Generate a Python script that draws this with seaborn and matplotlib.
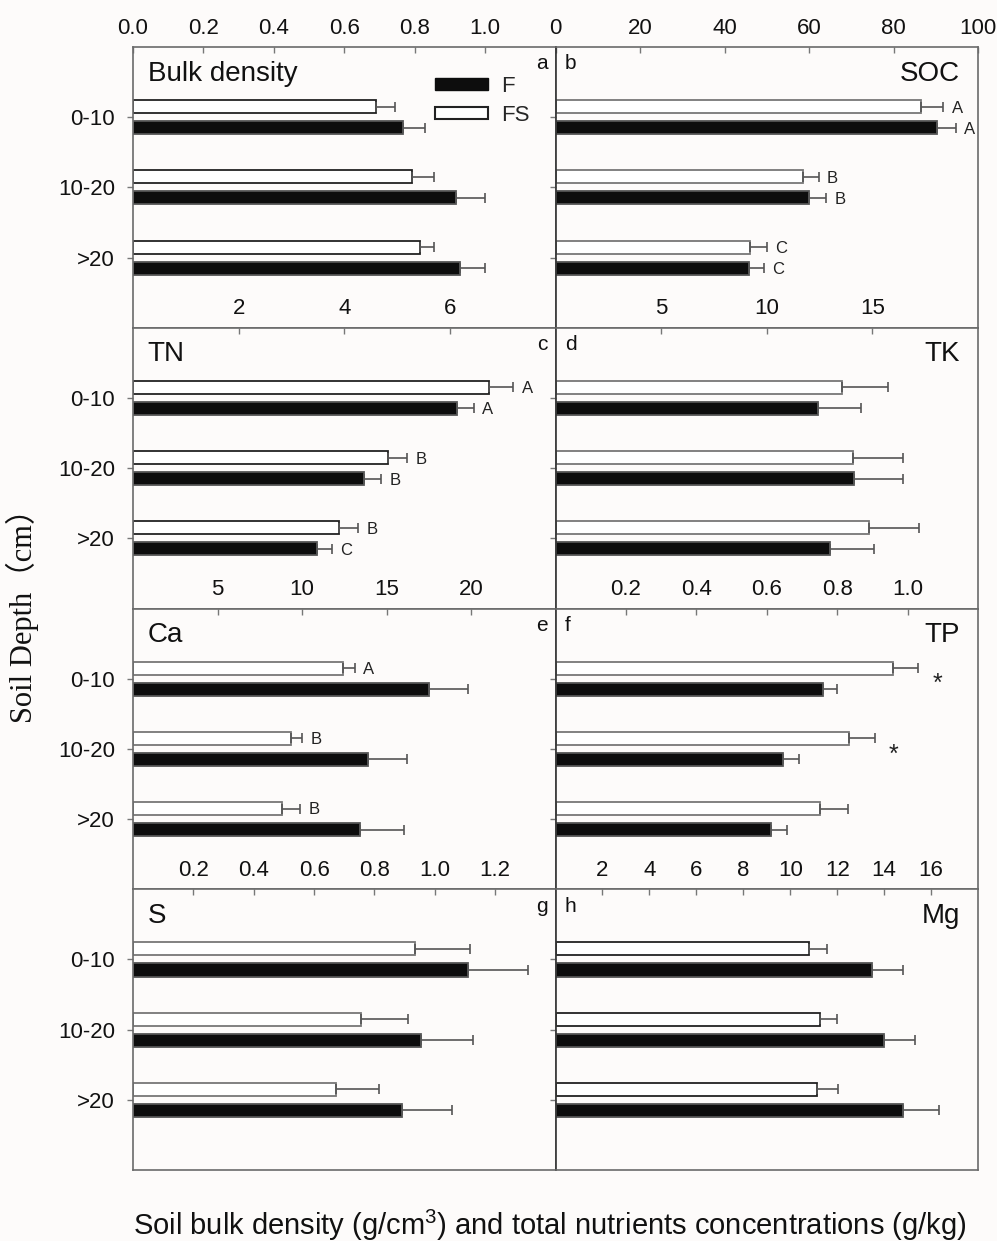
import numpy as np
import pandas as pd
import matplotlib
matplotlib.use('Agg')
import matplotlib.pyplot as plt
import seaborn as sns
from matplotlib.patches import Patch
from matplotlib.ticker import FormatStrFormatter

# ---------------------------------------------------------
# settings
# ---------------------------------------------------------
sns.set_style('white')
plt.rcParams['font.family'] = ['Liberation Sans', 'DejaVu Sans']
plt.rcParams['mathtext.default'] = 'regular'
BG = '#fdfbfa'

# ---------------------------------------------------------
# data
# ---------------------------------------------------------
depths = ['0-10', '10-20', '>20']
treatments = ['FS', 'F']

bd_fs = [0.690, 0.791, 0.814]
bd_fs_err = [0.053, 0.065, 0.040]
bd_f = [0.767, 0.917, 0.929]
bd_f_err = [0.062, 0.084, 0.072]

soc_fs = [86.6, 58.6, 46.0]
soc_fs_err = [5.2, 3.7, 4.1]
soc_f = [90.4, 60.0, 45.8]
soc_f_err = [4.3, 4.0, 3.6]
soc_fs_letters = ['A', 'B', 'C']
soc_f_letters = ['A', 'B', 'C']

tn_fs = [6.74, 4.82, 3.90]
tn_fs_err = [0.46, 0.37, 0.36]
tn_f = [6.13, 4.38, 3.49]
tn_f_err = [0.32, 0.32, 0.28]
tn_fs_letters = ['A', 'B', 'B']
tn_f_letters = ['A', 'B', 'C']

tk_fs = [13.58, 14.10, 14.86]
tk_fs_err = [2.16, 2.37, 2.33]
tk_f = [12.41, 14.11, 12.98]
tk_f_err = [2.04, 2.33, 2.11]

ca_fs = [12.45, 9.37, 8.81]
ca_fs_err = [0.67, 0.63, 1.09]
ca_f = [17.49, 13.91, 13.42]
ca_f_err = [2.31, 2.31, 2.63]
ca_fs_letters = ['A', 'B', 'B']

tp_fs = [0.958, 0.834, 0.752]
tp_fs_err = [0.072, 0.072, 0.079]
tp_f = [0.760, 0.647, 0.613]
tp_f_err = [0.038, 0.045, 0.043]
tp_stars = ['*', '*', '']

s_fs = [0.934, 0.755, 0.673]
s_fs_err = [0.184, 0.155, 0.142]
s_f = [1.111, 0.953, 0.892]
s_f_err = [0.199, 0.175, 0.166]

mg_fs = [10.80, 11.25, 11.14]
mg_fs_err = [0.77, 0.76, 0.91]
mg_f = [13.47, 13.98, 14.82]
mg_f_err = [1.32, 1.35, 1.50]

panels = [
    dict(name='Bulk density', tag='a', fs=bd_fs, fs_err=bd_fs_err, f=bd_f, f_err=bd_f_err,
         xlim=(0, 1.2), ticks=[0, 0.2, 0.4, 0.6, 0.8, 1.0], fmt='%.1f', edge='#222222'),
    dict(name='SOC', tag='b', fs=soc_fs, fs_err=soc_fs_err, f=soc_f, f_err=soc_f_err,
         fs_lab=soc_fs_letters, f_lab=soc_f_letters,
         xlim=(0, 100), ticks=[0, 20, 40, 60, 80, 100], fmt='%d', edge='#777777'),
    dict(name='TN', tag='c', fs=tn_fs, fs_err=tn_fs_err, f=tn_f, f_err=tn_f_err,
         fs_lab=tn_fs_letters, f_lab=tn_f_letters,
         xlim=(0, 8), ticks=[2, 4, 6], fmt='%d', edge='#222222'),
    dict(name='TK', tag='d', fs=tk_fs, fs_err=tk_fs_err, f=tk_f, f_err=tk_f_err,
         xlim=(0, 20), ticks=[5, 10, 15], fmt='%d', edge='#777777'),
    dict(name='Ca', tag='e', fs=ca_fs, fs_err=ca_fs_err, f=ca_f, f_err=ca_f_err,
         fs_lab=ca_fs_letters,
         xlim=(0, 25), ticks=[5, 10, 15, 20], fmt='%d', edge='#777777'),
    dict(name='TP', tag='f', fs=tp_fs, fs_err=tp_fs_err, f=tp_f, f_err=tp_f_err,
         stars=tp_stars,
         xlim=(0, 1.2), ticks=[0.2, 0.4, 0.6, 0.8, 1.0], fmt='%.1f', edge='#777777'),
    dict(name='S', tag='g', fs=s_fs, fs_err=s_fs_err, f=s_f, f_err=s_f_err,
         xlim=(0, 1.4), ticks=[0.2, 0.4, 0.6, 0.8, 1.0, 1.2], fmt='%.1f', edge='#777777'),
    dict(name='Mg', tag='h', fs=mg_fs, fs_err=mg_fs_err, f=mg_f, f_err=mg_f_err,
         xlim=(0, 18), ticks=[2, 4, 6, 8, 10, 12, 14, 16], fmt='%d', edge='#222222'),
]

# ---------------------------------------------------------
# figure
# ---------------------------------------------------------
fig, axes = plt.subplots(4, 2, figsize=(9.97, 12.41), dpi=100)
fig.patch.set_facecolor(BG)
plt.subplots_adjust(left=0.1334, right=0.981, top=0.9621, bottom=0.0572, wspace=0, hspace=0)

for i, (ax, p) in enumerate(zip(axes.flat, panels)):
    col = i % 2
    df = pd.DataFrame({
        'Depth': depths * 2,
        'Treatment': ['FS'] * 3 + ['F'] * 3,
        'Value': p['fs'] + p['f'],
    })
    sns.barplot(data=df, x='Value', y='Depth', hue='Treatment', order=depths,
                hue_order=treatments, orient='h', palette={'FS': 'white', 'F': '#0d0d0d'},
                width=0.6, gap=0.38, errorbar=None, legend=False, saturation=1,
                linewidth=1.3, ax=ax)
    ax.set_facecolor(BG)

    errs = {'FS': p['fs_err'], 'F': p['f_err']}
    labs = {'FS': p.get('fs_lab'), 'F': p.get('f_lab')}
    err_end = {}
    for cont, tr in zip(ax.containers, treatments):
        for bar in cont:
            yc = bar.get_y() + bar.get_height() / 2
            k = int(round(yc))
            xv = bar.get_width()
            e = errs[tr][k]
            bar.set_edgecolor(p['edge'] if tr == 'FS' else '#555555')
            ax.errorbar(xv, yc, xerr=[[0], [e]], fmt='none', ecolor='#555555',
                        elinewidth=1.2, capsize=3.5, capthick=1.2, zorder=3)
            err_end[(tr, k)] = (xv + e, yc)
            if labs[tr] is not None and labs[tr][k]:
                ax.annotate(labs[tr][k], (xv + e, yc), xytext=(6, -1), textcoords='offset points',
                            ha='left', va='center', fontsize=12, color='#222222')

    if 'stars' in p:
        for k, st in enumerate(p['stars']):
            if st:
                xe, _ = err_end[('FS', k)]
                ax.annotate(st, (xe, k), xytext=(14, -4), textcoords='offset points',
                            ha='center', va='center', fontsize=18, color='#222222')

    # axes styling
    ax.set_ylim(3, -1)
    ax.set_xlim(*p['xlim'])
    ax.set_xlabel('')
    ax.set_ylabel('')
    ax.xaxis.tick_top()
    ax.set_xticks(p['ticks'])
    ax.xaxis.set_major_formatter(FormatStrFormatter(p['fmt']))
    ax.tick_params(axis='x', direction='in', length=4, width=1, color='#777777', pad=6,
                   labelsize=16, labelcolor='#111111', top=True, bottom=False,
                   labeltop=True, labelbottom=False)
    ax.set_yticks([0, 1, 2])
    if col == 0:
        ax.set_yticklabels(depths)
    else:
        ax.set_yticklabels([])
    ax.tick_params(axis='y', direction='out', length=4, width=1, color='#777777', pad=9,
                   labelsize=16, labelcolor='#111111', left=True)
    for sp in ax.spines.values():
        sp.set_visible(True)
        sp.set_color('#6a6a6a')
        sp.set_linewidth(1.2)
    if col == 1:
        ax.spines['left'].set_color('#333333')

    # panel names
    if col == 0:
        ax.text(0.035, 0.905, p['name'], transform=ax.transAxes, ha='left', va='center',
                fontsize=20, color='#111111')
        ax.text(0.982, 0.94, p['tag'], transform=ax.transAxes, ha='right', va='center',
                fontsize=15, color='#111111')
    else:
        ax.text(0.958, 0.905, p['name'], transform=ax.transAxes, ha='right', va='center',
                fontsize=20, color='#111111')
        ax.text(0.022, 0.94, p['tag'], transform=ax.transAxes, ha='left', va='center',
                fontsize=15, color='#111111')

# legend in panel a
handles = [Patch(facecolor='#0d0d0d', edgecolor='#0d0d0d'),
           Patch(facecolor='white', edgecolor='#222222', linewidth=1.5)]
axes[0, 0].legend(handles, ['F', 'FS'], loc='upper left', bbox_to_anchor=(0.714, 0.897),
                  frameon=False, fontsize=16, handlelength=2.4, handleheight=0.42,
                  labelspacing=0.35, handletextpad=0.6, borderpad=0, borderaxespad=0)

fig.text(0.022, 0.51, 'Soil Depth（cm）', rotation=90, ha='center', va='center',
         fontsize=22, family=['Liberation Serif', 'Noto Sans CJK SC'], color='#111111')
fig.text(0.551, 0.0125, 'Soil bulk density (g/cm$^3$) and total nutrients concentrations (g/kg)',
         ha='center', va='center', fontsize=21, color='#111111')

plt.savefig('out.png', dpi=100, facecolor=BG)
